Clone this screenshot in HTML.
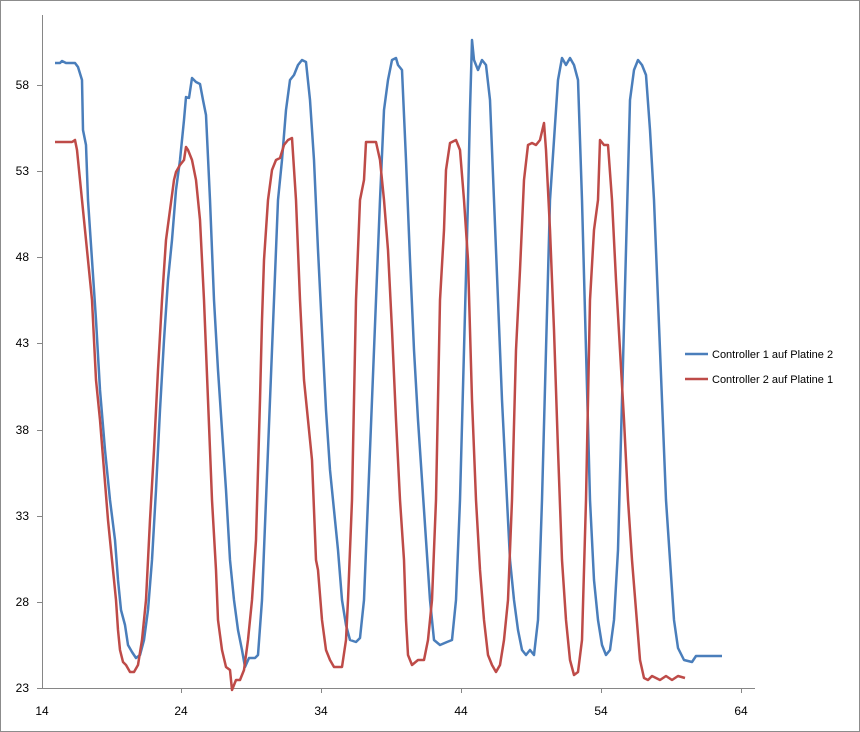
<!DOCTYPE html>
<html><head><meta charset="utf-8"><style>
html,body{margin:0;padding:0;background:#fff}
svg{display:block;font-family:"Liberation Sans",sans-serif}
</style></head><body>
<svg width="860" height="732" viewBox="0 0 860 732">
<rect x="0.5" y="0.5" width="859" height="731" fill="#fff" stroke="#8c8c8c"/>
<g stroke="#868686" stroke-width="1" fill="none">
<line x1="42.5" y1="15" x2="42.5" y2="688"/>
<line x1="42" y1="688.5" x2="755" y2="688.5"/>
<line x1="37" y1="85.5" x2="42" y2="85.5"/><line x1="37" y1="171.5" x2="42" y2="171.5"/>
<line x1="37" y1="257.5" x2="42" y2="257.5"/><line x1="37" y1="343.5" x2="42" y2="343.5"/>
<line x1="37" y1="430.5" x2="42" y2="430.5"/><line x1="37" y1="516.5" x2="42" y2="516.5"/>
<line x1="37" y1="602.5" x2="42" y2="602.5"/><line x1="37" y1="688.5" x2="42" y2="688.5"/>
<line x1="181.5" y1="688" x2="181.5" y2="693"/><line x1="321.5" y1="688" x2="321.5" y2="693"/>
<line x1="461.5" y1="688" x2="461.5" y2="693"/><line x1="601.5" y1="688" x2="601.5" y2="693"/>
<line x1="741.5" y1="688" x2="741.5" y2="693"/>
</g>
<g font-size="12" fill="#000" text-anchor="end">
<text x="29" y="89">58</text><text x="29" y="175">53</text><text x="29" y="261">48</text>
<text x="29" y="347">43</text><text x="29" y="434">38</text><text x="29" y="520">33</text>
<text x="29" y="606">28</text><text x="29" y="692">23</text>
</g>
<g font-size="12" fill="#000" text-anchor="middle">
<text x="42" y="715">14</text><text x="181" y="715">24</text><text x="321" y="715">34</text>
<text x="461" y="715">44</text><text x="601" y="715">54</text><text x="741" y="715">64</text>
</g>
<polyline fill="none" stroke="#4a7ebb" stroke-width="2.5" stroke-linejoin="round" points="55,63 60,63 62,61 66,63 75,63 78,67 82,80 83,130 86,145 88,200 92,260 96,320 100,390 105,450 110,500 115,540 118,580 121,610 125,625 128,645 132,652 136,658 140,655 144,640 148,610 152,560 156,490 160,410 164,340 168,280 172,240 176,190 180,160 184,120 186,97 189,98 192,78 196,82 200,84 203,100 206,115 210,200 214,300 218,370 222,430 226,490 230,560 234,600 238,630 242,650 245,667 249,658 255,658 258,655 262,600 266,500 270,400 274,300 278,200 282,160 286,110 290,80 294,75 298,65 302,60 306,62 310,100 314,160 318,250 322,330 326,410 330,470 334,510 338,550 342,600 346,625 350,640 356,642 360,638 364,600 368,500 372,400 376,300 380,200 384,110 388,80 392,60 396,58 398,65 402,70 406,160 410,260 414,350 418,420 422,480 426,540 430,600 434,640 440,645 447,642 452,640 456,600 460,500 464,350 468,200 470,110 472,40 474,60 478,70 482,60 486,65 490,100 494,200 498,300 502,400 506,480 510,560 514,600 518,630 522,650 526,655 530,650 534,655 538,620 542,500 546,350 550,200 554,140 558,80 562,58 566,65 570,58 574,65 578,80 582,200 586,350 590,500 594,580 598,620 602,645 606,655 610,650 614,620 618,550 622,400 626,250 630,100 634,70 638,60 642,65 646,75 650,130 654,200 658,300 662,400 666,500 670,560 674,620 678,648 684,660 692,662 696,656 700,656 710,656 722,656"/>
<polyline fill="none" stroke="#be4b48" stroke-width="2.5" stroke-linejoin="round" points="55,142 72,142 75,140 77,150 80,180 84,220 88,260 92,300 96,380 100,420 104,470 108,520 112,560 116,600 118,630 120,650 123,662 126,665 130,672 134,672 138,665 142,640 146,600 150,520 154,450 158,370 162,300 166,240 170,210 174,180 176,172 180,165 184,160 186,147 188,150 192,160 196,180 200,220 204,300 208,400 212,500 216,570 218,620 222,650 226,667 230,670 232,690 236,680 240,680 244,670 248,640 252,600 256,540 260,400 262,320 264,260 268,200 272,170 276,160 280,158 284,145 288,140 292,138 296,200 300,300 304,380 308,420 312,460 316,560 318,570 322,620 326,650 330,660 334,667 342,667 346,640 348,600 352,500 356,300 360,200 364,180 366,142 376,142 380,160 384,200 388,250 392,330 396,420 400,500 404,560 406,620 408,655 412,665 418,660 424,660 428,640 432,600 436,500 440,300 444,230 446,170 450,143 456,140 460,150 464,200 468,260 472,400 476,500 480,570 484,620 488,655 492,665 496,672 500,665 504,640 508,600 512,500 516,350 520,270 524,180 528,145 532,143 536,145 540,140 544,123 546,150 550,230 554,330 558,450 562,560 566,620 570,660 574,675 578,672 582,640 586,500 590,300 594,230 598,200 600,140 604,145 608,145 612,200 616,280 620,350 624,420 628,500 632,560 636,610 640,660 644,678 648,680 652,676 660,680 666,676 672,680 678,676 685,678"/>
<line x1="685" y1="354" x2="708" y2="354" stroke="#4a7ebb" stroke-width="2.5"/>
<line x1="685" y1="379" x2="708" y2="379" stroke="#be4b48" stroke-width="2.5"/>
<g font-size="11" fill="#000">
<text x="712" y="358">Controller 1 auf Platine 2</text>
<text x="712" y="383">Controller 2 auf Platine 1</text>
</g>
</svg>
</body></html>
